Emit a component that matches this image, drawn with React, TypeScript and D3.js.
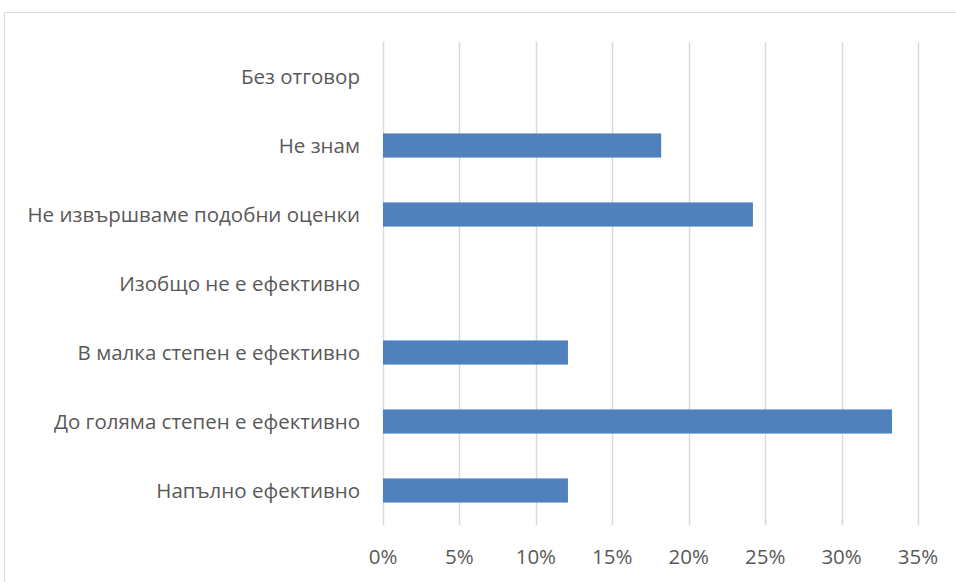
import { useEffect, useRef } from 'react';
import * as d3 from 'd3';

const categories = [
  'Без отговор',
  'Не знам',
  'Не извършваме подобни оценки',
  'Изобщо не е ефективно',
  'В малка степен е ефективно',
  'До голяма степен е ефективно',
  'Напълно ефективно',
];
const values = [0, 0.182, 0.242, 0, 0.121, 0.333, 0.121];
const ticks = [0, 0.05, 0.1, 0.15, 0.2, 0.25, 0.3, 0.35];

const W = 956;
const H = 582;
const FONT = '"Open Sans", "Noto Sans", sans-serif';

export default function App() {
  const svgRef = useRef<SVGSVGElement>(null);

  useEffect(() => {
    if (!svgRef.current) return;
    const svg = d3.select(svgRef.current);
    svg.selectAll('*').remove();

    const left = 383;
    const right = 918;
    const top = 42;
    const bottom = 525;

    const x = d3.scaleLinear().domain([0, 0.35]).range([left, right]);
    const y = d3.scaleBand<string>().domain(categories).range([top, bottom]).paddingInner(0.65).paddingOuter(0.325);

    // chart border
    svg.append('path')
      .attr('d', `M4.5,${H} V12.5 H${W}`)
      .attr('fill', 'none')
      .attr('stroke', '#d9d9d9')
      .attr('stroke-width', 1);

    // gridlines
    svg.append('g')
      .selectAll('line')
      .data(ticks)
      .enter()
      .append('line')
      .attr('x1', d => Math.round(x(d)) + 0.5)
      .attr('x2', d => Math.round(x(d)) + 0.5)
      .attr('y1', top)
      .attr('y2', bottom)
      .attr('stroke', '#d9d9d9')
      .attr('stroke-width', 1.5);

    // bars
    svg.append('g')
      .selectAll('rect')
      .data(categories)
      .enter()
      .append('rect')
      .attr('x', x(0))
      .attr('y', d => y(d)!)
      .attr('width', (_, i) => x(values[i]) - x(0))
      .attr('height', y.bandwidth())
      .attr('fill', '#4f81bd');

    // category labels
    svg.append('g')
      .selectAll('text')
      .data(categories)
      .enter()
      .append('text')
      .attr('x', 360)
      .attr('y', d => y(d)! + y.bandwidth() / 2)
      .attr('dy', '0.35em')
      .attr('text-anchor', 'end')
      .attr('fill', '#595959')
      .style('font-family', FONT)
      .style('font-size', '20.5px')
      .text(d => d);

    // tick labels
    svg.append('g')
      .selectAll('text')
      .data(ticks)
      .enter()
      .append('text')
      .attr('x', d => x(d))
      .attr('y', 557)
      .attr('dy', '0.35em')
      .attr('text-anchor', 'middle')
      .attr('fill', '#595959')
      .style('font-family', FONT)
      .style('font-size', '20.5px')
      .text(d => d3.format('.0%')(d));
  }, []);

  return (
    <svg
      ref={svgRef}
      width={W}
      height={H}
      style={{ position: 'absolute', left: 0, top: 0, background: '#fff' }}
    />
  );
}
